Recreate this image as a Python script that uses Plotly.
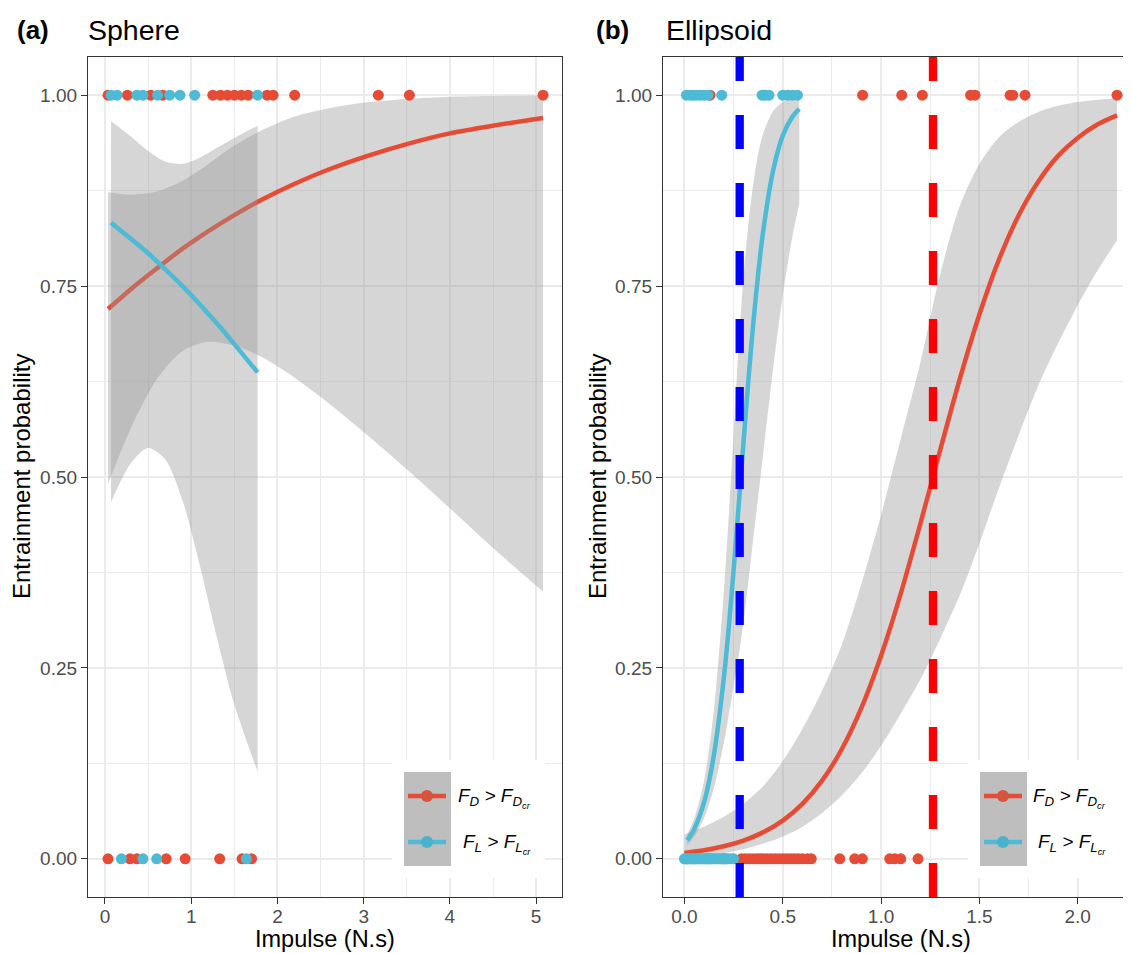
import plotly.graph_objects as go

# ---------------- data ----------------
# (a) Sphere: impulse (N.s) of entrained (1) / not entrained (0) events
sph_fd_entrained = [0.035, 0.26, 0.53, 0.67, 1.25, 1.34, 1.42, 1.50, 1.58, 1.66, 1.88, 1.95, 2.20, 3.17, 3.53, 5.08]
sph_fd_not = [0.035, 0.29, 0.37, 0.71, 0.93, 1.33, 1.59, 1.70]
sph_fl_entrained = [0.07, 0.14, 0.37, 0.44, 0.61, 0.75, 0.87, 1.04, 1.77]
sph_fl_not = [0.19, 0.44, 0.60, 1.64]

# (a) logistic fits with 95% band
sph_fd_x = [0.035, 0.3, 0.6, 0.9, 1.2, 1.5, 1.8, 2.2, 2.6, 3.0, 3.5, 4.0, 4.5, 5.08]
sph_fd_fit = [0.720, 0.746, 0.773, 0.799, 0.822, 0.843, 0.862, 0.884, 0.903, 0.919, 0.936, 0.950, 0.960, 0.970]
sph_fd_lo = [0.491, 0.564, 0.628, 0.665, 0.677, 0.672, 0.658, 0.630, 0.596, 0.559, 0.510, 0.459, 0.407, 0.350]
sph_fd_hi = [0.873, 0.870, 0.874, 0.888, 0.910, 0.934, 0.953, 0.972, 0.983, 0.990, 0.995, 0.998, 0.999, 0.9995]

sph_fl_x = [0.07, 0.3, 0.5, 0.7, 0.9, 1.1, 1.3, 1.5, 1.77]
sph_fl_fit = [0.833, 0.812, 0.793, 0.772, 0.750, 0.726, 0.701, 0.674, 0.637]
sph_fl_lo = [0.467, 0.518, 0.538, 0.523, 0.469, 0.384, 0.289, 0.202, 0.114]
sph_fl_hi = [0.966, 0.946, 0.927, 0.913, 0.910, 0.918, 0.931, 0.944, 0.960]

# (b) Ellipsoid
ell_fd_entrained = [0.13, 0.906, 1.105, 1.21, 1.455, 1.478, 1.656, 1.67, 1.732, 2.20]
ell_fd_not = [0.01, 0.05, 0.12, 0.2, 0.29, 0.31, 0.33, 0.35, 0.37, 0.385, 0.40, 0.42, 0.44, 0.46,
              0.48, 0.50, 0.52, 0.54, 0.56, 0.58, 0.60, 0.625, 0.645, 0.79, 0.866, 0.905, 1.044,
              1.07, 1.10, 1.188]
ell_fl_entrained = [0.01, 0.03, 0.045, 0.06, 0.08, 0.10, 0.12, 0.19, 0.395, 0.41, 0.43, 0.50, 0.525, 0.55, 0.575]
ell_fl_not = [0.0, 0.01, 0.015, 0.025, 0.03, 0.04, 0.05, 0.06, 0.07, 0.075, 0.085, 0.095, 0.10, 0.11,
              0.12, 0.13, 0.14, 0.15, 0.16, 0.17, 0.18, 0.19, 0.20, 0.21, 0.22, 0.235, 0.25]

ell_fd_x = [0.0, 0.1, 0.2, 0.3, 0.4, 0.5, 0.6, 0.7, 0.8, 0.9, 1.0, 1.1, 1.2, 1.3, 1.4, 1.5, 1.6, 1.7,
            1.8, 1.9, 2.0, 2.1, 2.2]
ell_fd_fit = [0.0076, 0.0112, 0.0164, 0.0239, 0.0347, 0.0501, 0.072, 0.1024, 0.1435, 0.1977, 0.266,
              0.3473, 0.439, 0.5347, 0.628, 0.7128, 0.785, 0.8428, 0.887, 0.9205, 0.944, 0.9615, 0.9735]
ell_fd_lo = [0.003, 0.0048, 0.0075, 0.0125, 0.02, 0.029, 0.042, 0.06, 0.083, 0.112, 0.148, 0.19, 0.235,
             0.288, 0.345, 0.413, 0.486, 0.555, 0.62, 0.675, 0.725, 0.77, 0.81]
ell_fd_hi = [0.032, 0.042, 0.055, 0.072, 0.095, 0.128, 0.17, 0.22, 0.28, 0.36, 0.45, 0.55, 0.65, 0.765,
             0.855, 0.91, 0.945, 0.965, 0.978, 0.986, 0.991, 0.994, 0.996]

ell_fl_x = [0.014, 0.05, 0.1, 0.15, 0.2, 0.225, 0.25, 0.275, 0.3, 0.325, 0.35, 0.375, 0.4, 0.45, 0.5, 0.55, 0.584]
ell_fl_fit = [0.0245, 0.0392, 0.0741, 0.136, 0.236, 0.302, 0.378, 0.460, 0.544, 0.626, 0.701, 0.766, 0.821, 0.900, 0.947, 0.972, 0.982]
ell_fl_lo = [0.0183, 0.0289, 0.0532, 0.0927, 0.1513, 0.1878, 0.2271, 0.2642, 0.309, 0.3624, 0.4195, 0.4735, 0.5287, 0.6395, 0.7377, 0.8164, 0.8575]
ell_fl_hi = [0.0325, 0.0529, 0.1023, 0.1948, 0.3484, 0.4477, 0.556, 0.668, 0.7606, 0.8307, 0.8836, 0.9229, 0.9497, 0.9787, 0.9911, 0.9963, 0.998]

# critical impulses (ellipsoid)
ell_fl_threshold = 0.281
ell_fd_threshold = 1.264

# ---------------- style ----------------
OFF = 8                       # page body margin of the html page
W, H = 1131 - OFF, 953 - OFF  # figure size so that it fills the window
RED = '#E64B35'
CYAN = '#4DBBD5'
RIBBON = 'rgba(153,153,153,0.4)'
GRID = '#EBEBEB'
FONT = 'Liberation Sans, Arial, sans-serif'

fig = go.Figure()


def ribbon(x, lo, hi, xa, ya):
    fig.add_trace(go.Scatter(x=x, y=hi, mode='lines', line=dict(width=0, shape='spline', smoothing=0.8),
                             hoverinfo='skip', showlegend=False, xaxis=xa, yaxis=ya))
    fig.add_trace(go.Scatter(x=x, y=lo, mode='lines', line=dict(width=0, shape='spline', smoothing=0.8),
                             fill='tonexty', fillcolor=RIBBON, hoverinfo='skip', showlegend=False,
                             xaxis=xa, yaxis=ya))


def curve(x, y, color, xa, ya):
    fig.add_trace(go.Scatter(x=x, y=y, mode='lines', line=dict(width=4.5, color=color, shape='spline', smoothing=0.8),
                             showlegend=False, xaxis=xa, yaxis=ya))


def points(xs, yval, color, xa, ya):
    fig.add_trace(go.Scatter(x=xs, y=[yval] * len(xs), mode='markers', marker=dict(size=11, color=color),
                             showlegend=False, xaxis=xa, yaxis=ya))


# panel (a)
ribbon(sph_fd_x, sph_fd_lo, sph_fd_hi, 'x', 'y')
curve(sph_fd_x, sph_fd_fit, RED, 'x', 'y')
ribbon(sph_fl_x, sph_fl_lo, sph_fl_hi, 'x', 'y')
curve(sph_fl_x, sph_fl_fit, CYAN, 'x', 'y')
points(sph_fd_entrained, 1.0, RED, 'x', 'y')
points(sph_fd_not, 0.0, RED, 'x', 'y')
points(sph_fl_entrained, 1.0, CYAN, 'x', 'y')
points(sph_fl_not, 0.0, CYAN, 'x', 'y')

# panel (b)
ribbon(ell_fd_x, ell_fd_lo, ell_fd_hi, 'x2', 'y2')
curve(ell_fd_x, ell_fd_fit, RED, 'x2', 'y2')
ribbon(ell_fl_x, ell_fl_lo, ell_fl_hi, 'x2', 'y2')
curve(ell_fl_x, ell_fl_fit, CYAN, 'x2', 'y2')
points(ell_fd_entrained, 1.0, RED, 'x2', 'y2')
points(ell_fd_not, 0.0, RED, 'x2', 'y2')
points(ell_fl_entrained, 1.0, CYAN, 'x2', 'y2')
points(ell_fl_not, 0.0, CYAN, 'x2', 'y2')
for thr, col in [(ell_fl_threshold, '#0000FF'), (ell_fd_threshold, '#FF0000')]:
    fig.add_trace(go.Scatter(x=[thr, thr], y=[-0.05, 1.05], mode='lines',
                             line=dict(color=col, width=8.3, dash='34px,34px'),
                             showlegend=False, xaxis='x2', yaxis='y2'))


def P(px, py):
    return (px - OFF) / W, 1 - (py - OFF) / H


# ---------------- axes ----------------
ydom = [P(0, 897)[1], P(0, 57)[1]]
common = dict(showgrid=True, gridcolor=GRID, gridwidth=2, zeroline=False, showline=True,
              linecolor='#333333', linewidth=1.3, ticks='outside', ticklen=6, tickwidth=1.2,
              tickcolor='#333333', tickfont=dict(size=19, color='#4D4D4D', family=FONT))

fig.update_layout(
    width=W, height=H, margin=dict(l=0, r=0, t=0, b=0),
    paper_bgcolor='white', plot_bgcolor='white', showlegend=False,
    font=dict(family=FONT),
    xaxis=dict(domain=[P(88, 0)[0], P(562, 0)[0]], range=[-0.197, 5.30], anchor='y', mirror=True,
               tickvals=[0, 1, 2, 3, 4, 5], ticktext=['0', '1', '2', '3', '4', '5'], ticklabelstandoff=-4,
               minor=dict(tickvals=[0.5, 1.5, 2.5, 3.5, 4.5], showgrid=True, gridcolor=GRID, gridwidth=1.1),
               **common),
    yaxis=dict(domain=ydom, range=[-0.05, 1.05], anchor='x', mirror=True,
               tickvals=[0, 0.25, 0.5, 0.75, 1.0], ticktext=['0.00', '0.25', '0.50', '0.75', '1.00'],
               minor=dict(tickvals=[0.125, 0.375, 0.625, 0.875], showgrid=True, gridcolor=GRID, gridwidth=1.1),
               **common),
    xaxis2=dict(domain=[P(663, 0)[0], 1.0], range=[-0.109, 2.271], anchor='y2', mirror=True,
                tickvals=[0, 0.5, 1.0, 1.5, 2.0], ticktext=['0.0', '0.5', '1.0', '1.5', '2.0'], ticklabelstandoff=-4,
                minor=dict(tickvals=[0.25, 0.75, 1.25, 1.75, 2.25], showgrid=True, gridcolor=GRID, gridwidth=1.1),
                **common),
    yaxis2=dict(domain=ydom, range=[-0.05, 1.05], anchor='x2', mirror=False,
                tickvals=[0, 0.25, 0.5, 0.75, 1.0], ticktext=['0.00', '0.25', '0.50', '0.75', '1.00'],
                minor=dict(tickvals=[0.125, 0.375, 0.625, 0.875], showgrid=True, gridcolor=GRID, gridwidth=1.1),
                **common),
)

annotations = []


def text(px, py, s, size, xanchor='center', yanchor='middle', angle=0, color='black'):
    x, y = P(px, py)
    annotations.append(dict(x=x, y=y, xref='paper', yref='paper', text=s, showarrow=False,
                            xanchor=xanchor, yanchor=yanchor, textangle=angle,
                            font=dict(size=size, color=color, family=FONT)))


# titles
text(15, 30, '<b>(a)</b>', 26, xanchor='left')
text(86, 30, 'Sphere', 28.5, xanchor='left')
text(594, 30, '<b>(b)</b>', 26, xanchor='left')
text(664, 30, 'Ellipsoid', 28.5, xanchor='left')
# axis titles
text(22, 477, 'Entrainment probability', 24, angle=-90)
text(598, 477, 'Entrainment probability', 24, angle=-90)
text(325, 938.5, 'Impulse (N.s)', 23.5)
text(901, 938.5, 'Impulse (N.s)', 23.5)

labels = ['<i>F<sub>D</sub> &gt; F<sub>D<sub>cr</sub></sub></i>',
          '<i>F<sub>L</sub> &gt; F<sub>L<sub>cr</sub></sub></i>']

shapes = []
for (bx0, bx1, kx0, txt_r) in [(392, 545, 404, 533), (968, 1123, 980, 1108)]:
    x0, y0 = P(bx0, 878)
    x1, y1 = P(bx1, 760)
    shapes.append(dict(type='rect', xref='paper', yref='paper', x0=x0, y0=y0, x1=x1, y1=y1,
                       fillcolor='white', line=dict(width=0), layer='above'))
    x0, y0 = P(kx0, 866)
    x1, y1 = P(kx0 + 47, 772)
    shapes.append(dict(type='rect', xref='paper', yref='paper', x0=x0, y0=y0, x1=x1, y1=y1,
                       fillcolor='#BEBEBE', line=dict(width=0), layer='above'))
    for i, (col, dark) in enumerate([(RED, '#D9513F'), (CYAN, '#49B2CB')]):
        ky = 796 + 46 * i
        x0, y0 = P(kx0 + 4, ky)
        x1, _ = P(kx0 + 42, ky)
        shapes.append(dict(type='line', xref='paper', yref='paper', x0=x0, y0=y0, x1=x1, y1=y0,
                           line=dict(color=col, width=4.5), layer='above'))
        cx = kx0 + 23
        x0, y0 = P(cx - 6, ky + 6)
        x1, y1 = P(cx + 6, ky - 6)
        shapes.append(dict(type='circle', xref='paper', yref='paper', x0=x0, y0=y0, x1=x1, y1=y1,
                           fillcolor=dark, line=dict(width=0), layer='above'))
        text(txt_r, ky + 2, labels[i], 19, xanchor='right')

fig.update_layout(annotations=annotations, shapes=shapes)
fig.write_html('out.html')
